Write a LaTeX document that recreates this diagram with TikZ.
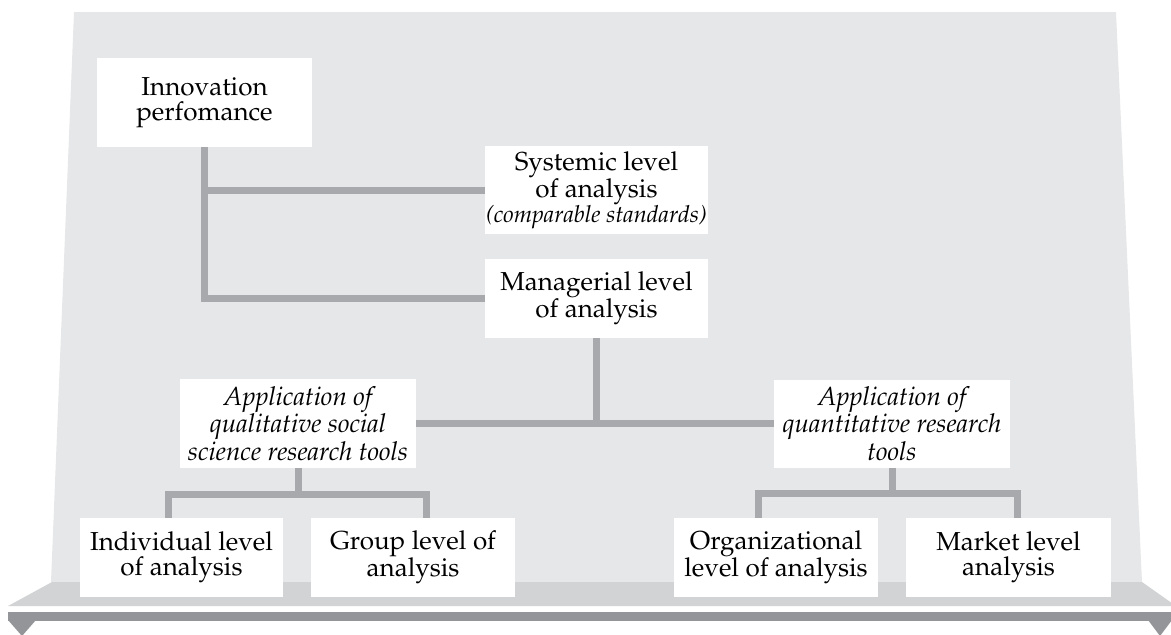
\documentclass[tikz,border=0pt]{standalone}
\usepackage[T1]{fontenc}
\usepackage{mathpazo}
\usetikzlibrary{calc}
\definecolor{bgc}{HTML}{E6E7E8}
\definecolor{shelfc}{HTML}{D1D3D4}
\definecolor{connc}{HTML}{A7A9AC}
\definecolor{barc}{HTML}{939598}
\begin{document}
\begin{tikzpicture}[x=1pt,y=-1pt,
  box/.style={fill=white, inner sep=0pt, align=center,
    font=\fontsize{26}{25}\selectfont},
  ibox/.style={box, font=\fontsize{26}{27.5}\selectfont\itshape},
  conn/.style={draw=connc, line width=7pt, line join=miter}]
\useasboundingbox (0,0) rectangle (1171,635);
% background panel and shelf
\fill[bgc] (74,12) -- (1116,12) -- (1142,582) -- (51,582) -- cycle;
\fill[shelfc] (52,582) -- (1142,582) -- (1176,606) -- (8,606) -- cycle;
\fill[barc] (8,612) rectangle (1171,621);
\fill[barc] (8,620) -- (36,620) -- (22,636) -- cycle;
\fill[barc] (1148,620) -- (1172,620) -- (1160,636) -- cycle;
% boxes
\node[box, minimum width=215pt, minimum height=89pt] (inno) at (204.5,102.5) {Innovation\\perfomance};
\node[box, minimum width=223pt, minimum height=88pt] (sys) at (596.5,190) {Systemic level\\of analysis\\{\fontsize{23.5}{24}\selectfont\itshape (comparable standards)}};
\node[box, minimum width=223pt, minimum height=79pt] (man) at (596.5,298.5) {Managerial level\\of analysis};
\node[ibox, minimum width=236pt, minimum height=89pt] (qual) at (298,423.5) {Application of\\qualitative social\\science research tools};
\node[ibox, minimum width=236pt, minimum height=88pt] (quant) at (892,423.5) {Application of\\quantitative research\\tools};
\node[box, minimum width=203pt, minimum height=79pt] (ind) at (181.5,557.5) {Individual level\\of analysis};
\node[box, minimum width=204pt, minimum height=79pt] (grp) at (413,557.5) {Group level of\\analysis};
\node[box, minimum width=204pt, minimum height=79pt] (org) at (776,557.5) {Organizational\\level of analysis};
\node[box, minimum width=205pt, minimum height=79pt] (mkt) at (1008.5,557.5) {Market level\\analysis};
% connectors
\draw[conn] (inno.south) |- (man.west);
\draw[conn] (inno.south |- sys.west) -- (sys.west);
\draw[conn] (man.south) -- (man.south |- qual.east);
\draw[conn] (qual.east) -- (quant.west);
\coordinate (qlj) at ($(qual.south)+(0,26.5)$);
\draw[conn] (qual.south) -- (qlj);
\draw[conn] ($(ind.north)+(-13,0)$) |- ($(grp.north)+(13.5,-23.5)$) -- ($(grp.north)+(13.5,0)$);
\coordinate (qnj) at ($(quant.south)+(0,26)$);
\draw[conn] (quant.south) -- (qnj);
\draw[conn] ($(org.north)+(-17.5,0)$) |- ($(mkt.north)+(8.5,-24.5)$) -- ($(mkt.north)+(8.5,0)$);
\end{tikzpicture}
\end{document}
